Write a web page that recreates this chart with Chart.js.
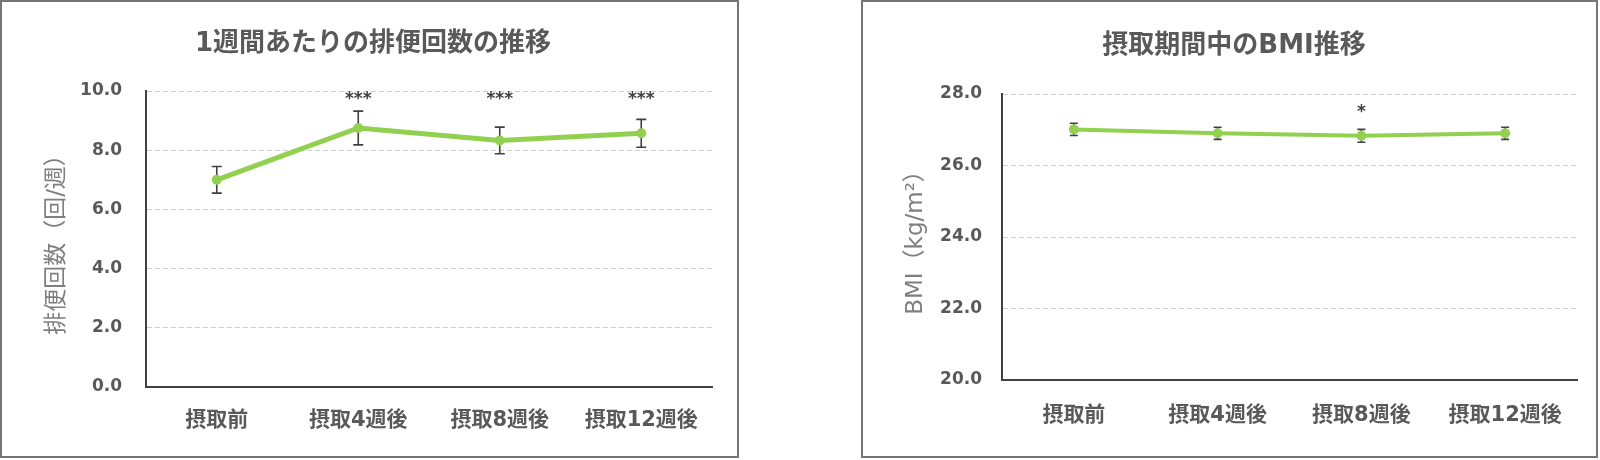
<!DOCTYPE html>
<html><head><meta charset="utf-8">
<script src="https://cdn.jsdelivr.net/npm/chart.js@4/dist/chart.umd.min.js"></script>
<style>
html,body{margin:0;padding:0;background:#fff;}
body{width:1600px;height:460px;position:relative;overflow:hidden;}
.panel{position:absolute;border:2px solid #767676;box-sizing:border-box;background:#fff;}
.panel canvas{position:absolute;left:0;top:0;}
</style></head><body>
<div class="panel" style="left:0;top:0;width:739px;height:458px;"><canvas id="c1" width="735" height="454" style="width:735px;height:454px"></canvas></div>
<div class="panel" style="left:861px;top:0;width:737px;height:458px;"><canvas id="c2" width="733" height="454" style="width:733px;height:454px"></canvas></div>
<script>
const categories = ['摂取前', '摂取4週後', '摂取8週後', '摂取12週後'];
const bowelMeans = [7.0, 8.75, 8.33, 8.57];
const bowelErrors = [0.45, 0.57, 0.45, 0.47];
const bowelMarks = ['', '***', '***', '***'];
const bowelTicks = [0, 2, 4, 6, 8, 10];
const bmiMeans = [27.01, 26.90, 26.83, 26.90];
const bmiErrors = [0.17, 0.17, 0.18, 0.17];
const bmiMarks = ['', '', '*', ''];
const bmiTicks = [20, 22, 24, 26, 28];

const FONT = '"DejaVu Sans", "Noto Sans CJK JP", sans-serif';
const GREEN = '#92D050';
const DARK = '#404040';

const errorBarPlugin = {
  id: 'errorBars',
  beforeDatasetsDraw(chart, args, opts) {
    const ctx = chart.ctx, xs = chart.scales.x, ys = chart.scales.y;
    const data = chart.data.datasets[0].data;
    ctx.save();
    ctx.strokeStyle = opts.color;
    ctx.lineWidth = opts.width;
    data.forEach((v, i) => {
      const e = opts.errors[i];
      const px = xs.getPixelForValue(i);
      const t = ys.getPixelForValue(v + e), b = ys.getPixelForValue(v - e);
      ctx.beginPath();
      ctx.moveTo(px, t); ctx.lineTo(px, b);
      ctx.moveTo(px - opts.cap, t); ctx.lineTo(px + opts.cap, t);
      ctx.moveTo(px - opts.cap, b); ctx.lineTo(px + opts.cap, b);
      ctx.stroke();
    });
    ctx.restore();
  },
  afterDatasetsDraw(chart, args, opts) {
    const ctx = chart.ctx, xs = chart.scales.x, ys = chart.scales.y;
    ctx.save();
    ctx.fillStyle = opts.color;
    ctx.font = opts.markFont;
    ctx.textAlign = 'center';
    ctx.textBaseline = 'middle';
    opts.marks.forEach((m, i) => {
      if (!m) return;
      ctx.fillText(m, xs.getPixelForValue(i), ys.getPixelForValue(opts.markLevel));
    });
    ctx.restore();
  }
};

function makeChart(id, cfg) {
  const minV = cfg.ticks[0], maxV = cfg.ticks[cfg.ticks.length - 1];
  return new Chart(document.getElementById(id), {
    type: 'line',
    data: {
      labels: categories,
      datasets: [{
        data: cfg.means,
        borderColor: GREEN,
        backgroundColor: GREEN,
        borderWidth: cfg.lineWidth,
        pointRadius: 5,
        pointHoverRadius: 5,
        pointBackgroundColor: GREEN,
        pointBorderWidth: 0,
        tension: 0
      }]
    },
    options: {
      responsive: false,
      animation: false,
      events: [],
      layout: { padding: { left: cfg.padL, right: cfg.padR, top: 0, bottom: 0 } },
      plugins: {
        legend: { display: false },
        tooltip: { enabled: false },
        title: {
          display: true,
          text: cfg.title,
          color: '#595959',
          font: { family: FONT, size: 26, weight: 'bold', lineHeight: 1.2 },
          padding: { top: cfg.titleTop, bottom: cfg.titleBottom }
        },
        errorBars: {
          errors: cfg.errors,
          marks: cfg.marks,
          markLevel: cfg.markLevel,
          color: DARK,
          width: 1.6,
          cap: cfg.cap,
          markFont: 'bold 17px "DejaVu Sans", sans-serif'
        }
      },
      scales: {
        x: {
          offset: true,
          grid: { display: false, drawTicks: false },
          border: { display: true, color: DARK, width: 2 },
          ticks: {
            color: '#595959',
            padding: cfg.xPad,
            font: { family: FONT, size: 21, weight: 'bold' },
            maxRotation: 0, autoSkip: false
          },
          afterFit: s => { s.height = cfg.xHeight; }
        },
        y: {
          min: minV, max: maxV,
          afterBuildTicks: s => { s.ticks = cfg.ticks.map(v => ({ value: v })); },
          grid: {
            drawTicks: false,
            lineWidth: 1,
            color: c => (c.tick && c.tick.value === minV) ? 'rgba(0,0,0,0)' : '#cfcfcf'
          },
          border: { display: true, color: DARK, width: 2, dash: [5, 3] },
          ticks: {
            color: '#595959',
            padding: cfg.yPad,
            font: { family: FONT, size: 17, weight: 'bold' },
            callback: v => Number(v).toFixed(1)
          },
          title: {
            display: true,
            text: cfg.yTitle,
            color: '#7f7f7f',
            font: { family: FONT, size: 23, weight: 'normal', lineHeight: 1.2 },
            padding: { top: cfg.yTitlePad, bottom: 0 }
          },
          afterFit: s => { s.width = cfg.yWidth; }
        }
      }
    },
    plugins: [errorBarPlugin]
  });
}

makeChart('c1', {
  title: '1週間あたりの排便回数の推移',
  yTitle: '排便回数（回/週）',
  means: bowelMeans, errors: bowelErrors, marks: bowelMarks, ticks: bowelTicks,
  markLevel: 9.7, lineWidth: 5, cap: 5,
  padL: 32, padR: 25, titleTop: 27, titleBottom: 30.8,
  yWidth: 112, yPad: 24, yTitlePad: 9,
  xHeight: 69, xPad: 21
});

makeChart('c2', {
  title: '摂取期間中のBMI推移',
  yTitle: 'BMI（kg/m²）',
  means: bmiMeans, errors: bmiErrors, marks: bmiMarks, ticks: bmiTicks,
  markLevel: 27.48, lineWidth: 4, cap: 4,
  padL: 28, padR: 19, titleTop: 29, titleBottom: 31.8,
  yWidth: 111, yPad: 20, yTitlePad: 11,
  xHeight: 76, xPad: 23
});
</script>
</body></html>
